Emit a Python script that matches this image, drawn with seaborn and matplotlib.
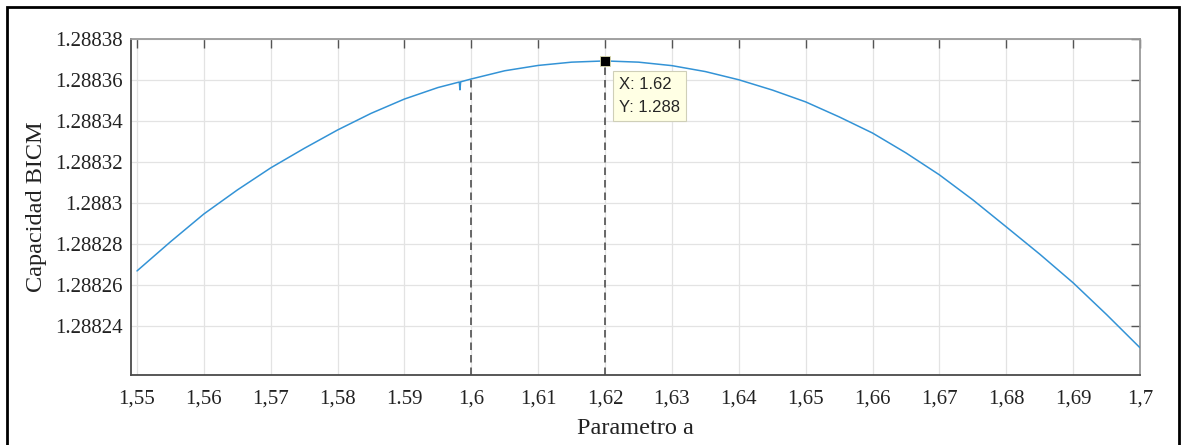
import matplotlib
matplotlib.use("Agg")
import matplotlib.pyplot as plt
from matplotlib.patches import Rectangle
import seaborn as sns
import pandas as pd

# BICM capacity versus the shaping parameter a
param_a = [1.55, 1.555, 1.56, 1.565, 1.57, 1.575, 1.58, 1.585, 1.59, 1.595,
           1.5982, 1.5983, 1.5984, 1.60, 1.605, 1.61, 1.615, 1.62, 1.625,
           1.63, 1.635, 1.64, 1.645, 1.65, 1.655, 1.66, 1.665, 1.67, 1.675,
           1.68, 1.685, 1.69, 1.695, 1.70]
capacity = [1.2882668, 1.2882810, 1.2882946, 1.2883063, 1.2883171, 1.2883266,
            1.2883356, 1.2883437, 1.2883507, 1.2883563,
            1.2883590, 1.2883552, 1.2883591, 1.2883605, 1.2883645, 1.2883671,
            1.2883687, 1.2883693, 1.2883687,
            1.2883670, 1.2883641, 1.2883601, 1.2883551, 1.2883493, 1.2883420,
            1.2883341, 1.2883244, 1.2883137, 1.2883015,
            1.2882883, 1.2882750, 1.2882610, 1.2882455, 1.2882293]

x_ticks = [1.55, 1.56, 1.57, 1.58, 1.59, 1.60, 1.61, 1.62, 1.63, 1.64, 1.65,
           1.66, 1.67, 1.68, 1.69, 1.70]
x_tick_labels = ["1,55", "1,56", "1,57", "1,58", "1.59", "1,6", "1,61", "1,62",
                 "1,63", "1,64", "1,65", "1,66", "1,67", "1,68", "1,69", "1,7"]
y_ticks = [1.28824, 1.28826, 1.28828, 1.2883, 1.28832, 1.28834, 1.28836, 1.28838]
y_tick_labels = ["1.28824", "1.28826", "1.28828", "1.2883", "1.28832",
                 "1.28834", "1.28836", "1.28838"]

# reference abscissas marked with dashed drop lines
ref_a = [1.60, 1.62]
peak_a = 1.62

df = pd.DataFrame({"a": param_a, "C": capacity})

sns.set_theme(style="whitegrid")
plt.rcParams["font.family"] = ["Liberation Serif", "DejaVu Serif"]

W, H = 1182, 445
fig = plt.figure(figsize=(W / 100, H / 100), dpi=100)
ax = fig.add_axes([131 / W, 1 - 375 / H, (1140 - 131) / W, (375 - 39) / H])
ax.set_facecolor("white")

ylo, yhi = 1.288216, 1.28838
xlo, xhi = 1.55 - 6 * 0.15 / 1003, 1.70

sns.lineplot(data=df, x="a", y="C", ax=ax, color="#3393d6", linewidth=1.1,
             estimator=None, sort=False, zorder=3)

# dashed drop lines from the axis up to the curve
for xr in ref_a:
    yr = capacity[param_a.index(xr)]
    ax.vlines(xr, ylo, yr, colors="#505050", linestyles=(0, (4.5, 3)),
              linewidth=1.2, zorder=2)

# data tip at the maximum
peak_c = capacity[param_a.index(peak_a)]
ax.plot([peak_a], [peak_c], marker="s", markersize=7.5, color="black",
        markeredgecolor="#ddddb0", markeredgewidth=0.6, zorder=5, clip_on=False)
ax.annotate(f"X: {peak_a:.4g}\nY: {peak_c:.4g}", xy=(peak_a, peak_c),
            xytext=(14, -16), textcoords="offset pixels", ha="left", va="top",
            fontsize=12, linespacing=1.65, color="#262626",
            family=["Liberation Sans", "DejaVu Sans"],
            bbox=dict(boxstyle="square,pad=0.38", facecolor="#ffffe4",
                      edgecolor="#cfcfb8", linewidth=0.8), zorder=6)

ax.set_xlim(xlo, xhi)
ax.set_ylim(ylo, yhi)
ax.set_xticks(x_ticks)
ax.set_yticks(y_ticks)
ax.set_yticklabels(y_tick_labels)

ax.grid(True, color="#e3e3e3", linewidth=0.9)
ax.tick_params(axis="both", which="major", direction="in", length=6.5,
               width=1.0, color="#555555", labelsize=15, labelcolor="#222222",
               top=True, right=True)
ax.tick_params(axis="x", labelbottom=False)
ax.tick_params(axis="y", pad=6)

# x labels on one shared baseline, whether they use "," or "."
for xv, txt in zip(x_ticks, x_tick_labels):
    ax.annotate(txt, xy=(xv, 0), xycoords=ax.get_xaxis_transform(),
                xytext=(0, -29), textcoords="offset pixels",
                ha="center", va="baseline", fontsize=15, color="#222222",
                annotation_clip=False)

for side in ["left", "bottom"]:
    ax.spines[side].set_color("#4a4a4a")
    ax.spines[side].set_linewidth(1.3)
for side in ["top", "right"]:
    ax.spines[side].set_color("#9a9a9a")
    ax.spines[side].set_linewidth(1.3)
for s in ax.spines.values():
    s.set_visible(True)

ax.set_xlabel("Parametro a", fontsize=17.5, color="#222222", labelpad=31)
ax.set_ylabel("Capacidad BICM", fontsize=17.5, color="#222222", labelpad=6)

# frame around the whole figure
fig.patches.append(Rectangle((7 / W, -0.05), (1179 - 7) / W, 1 - 7 / H + 0.05,
                             transform=fig.transFigure, fill=False,
                             edgecolor="black", linewidth=2.0))

fig.savefig("out.png", dpi=100)
